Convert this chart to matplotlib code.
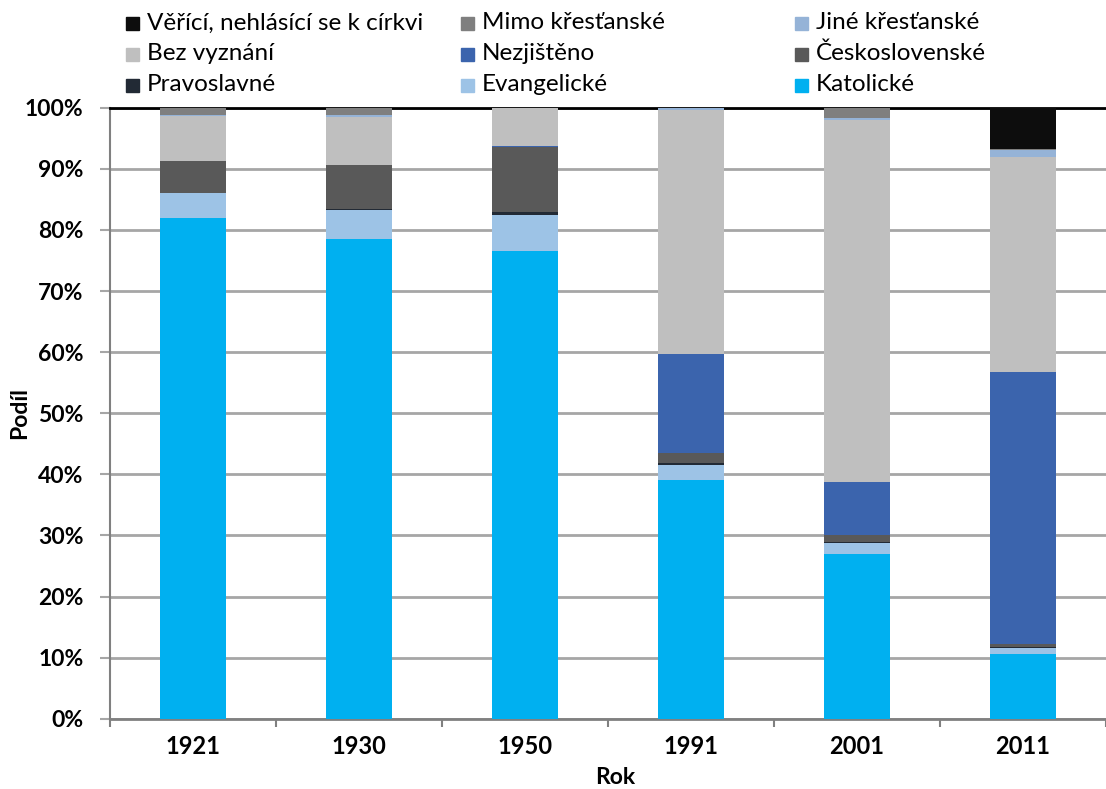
import matplotlib.pyplot as plt
import matplotlib.patches as mpatches
import numpy as np

plt.rcParams['font.family'] = ['Lato', 'DejaVu Sans']

# Data (podíl v %)
roky = ['1921', '1930', '1950', '1991', '2001', '2011']
katolicke = [82.0, 78.5, 76.6, 39.0, 26.9, 10.6]
evangelicke = [4.0, 4.8, 5.8, 2.6, 1.9, 1.0]
pravoslavne = [0.1, 0.1, 0.5, 0.2, 0.2, 0.2]
ceskoslovenske = [5.1, 7.3, 10.6, 1.7, 1.0, 0.4]
nezjisteno = [0.0, 0.0, 0.2, 16.2, 8.8, 44.6]
bez_vyznani = [7.4, 7.8, 6.2, 40.0, 59.2, 35.2]
jine_krestanske = [0.2, 0.3, 0.1, 0.2, 0.3, 1.1]
mimo_krestanske = [1.2, 1.2, 0.0, 0.1, 1.7, 0.1]
verici = [0.0, 0.0, 0.0, 0.0, 0.0, 6.8]

# poradi od spodu nahoru
serie = [
    ('Katolické', katolicke, '#00B0F0'),
    ('Evangelické', evangelicke, '#9DC3E6'),
    ('Pravoslavné', pravoslavne, '#222A35'),
    ('Československé', ceskoslovenske, '#595959'),
    ('Nezjištěno', nezjisteno, '#3B64AD'),
    ('Bez vyznání', bez_vyznani, '#BFBFBF'),
    ('Jiné křesťanské', jine_krestanske, '#95B3D7'),
    ('Mimo křesťanské', mimo_krestanske, '#7F7F7F'),
    ('Věřící, nehlásící se k církvi', verici, '#0D0D0D'),
]

fig = plt.figure(figsize=(11.06, 7.89), dpi=100)
ax = fig.add_axes([0.0995, 0.089, 0.9005, 0.7745])

x = np.arange(len(roky))
dole = np.zeros(len(roky))
for nazev, hodnoty, barva in serie:
    h = np.array(hodnoty) / 100
    ax.bar(x, h, 0.4, bottom=dole, color=barva, linewidth=0, zorder=3)
    dole += h

ax.set_ylim(0, 1)
ax.set_xlim(-0.5, 5.42)
ax.set_yticks(np.arange(0, 1.01, 0.1))
ax.set_yticklabels([f'{int(round(v * 100))}%' for v in np.arange(0, 1.01, 0.1)],
                   fontsize=16.5, fontweight='bold')
ax.set_xticks(x)
ax.set_xticklabels(roky, fontsize=17, fontweight='bold')
ax.set_xticks(np.arange(-0.5, 5.6, 1), minor=True)
ax.tick_params(axis='x', which='major', length=0, pad=12)
ax.tick_params(axis='x', which='minor', length=6, color='#808080', width=1.5)
ax.tick_params(axis='y', length=7, color='#A6A6A6', width=1.5, pad=12)

ax.grid(axis='y', color='#A6A6A6', linewidth=2, zorder=0)
ax.set_axisbelow(True)
ax.spines['right'].set_visible(False)
ax.spines['top'].set_color('#000000')
ax.spines['top'].set_linewidth(2)
ax.spines['left'].set_color('#808080')
ax.spines['left'].set_linewidth(1.5)
ax.spines['bottom'].set_color('#808080')
ax.spines['bottom'].set_linewidth(2)

ax.set_xlabel('Rok', fontsize=16.5, fontweight='bold')
ax.set_ylabel('Podíl', fontsize=16.5, fontweight='bold')
ax.xaxis.set_label_coords(0.507, -0.079)
ax.yaxis.set_label_coords(-0.08, 0.5)

# legenda ve trech sloupcich
poradi_legendy = [8, 7, 6, 5, 4, 3, 2, 1, 0]
sloupce_x = [0.114, 0.417, 0.719]
radky_y = [0.971, 0.932, 0.893]
for i, idx in enumerate(poradi_legendy):
    nazev, _, barva = serie[idx]
    lx = sloupce_x[i % 3]
    ly = radky_y[i // 3]
    fig.patches.append(mpatches.Rectangle((lx, ly - 0.009), 0.012, 0.0165,
                                          transform=fig.transFigure, color=barva))
    fig.text(lx + 0.019, ly, nazev, fontsize=17.5, va='center', ha='left')

fig.savefig('out.png', dpi=100)
